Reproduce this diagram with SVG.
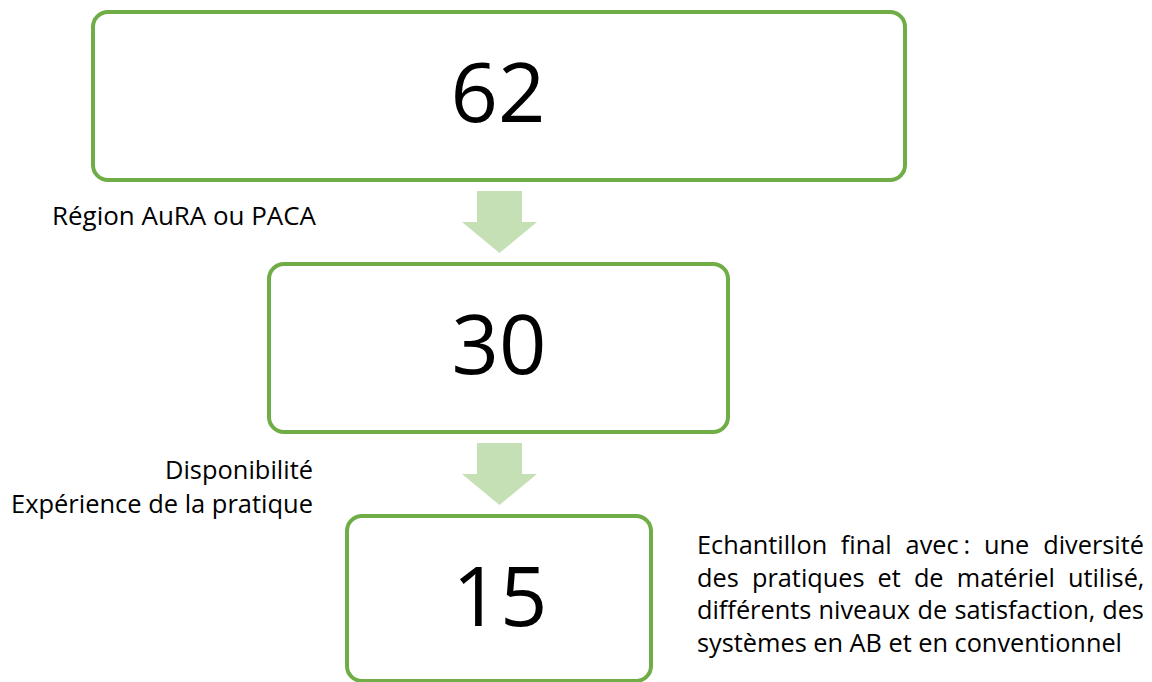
<svg xmlns="http://www.w3.org/2000/svg" width="1152" height="682" viewBox="0 0 1152 682">
<style>
.box{fill:#FFFFFF;stroke:#70AD47;stroke-width:4}
.arrow{fill:#C5E0B4;stroke:none}
.num{font-family:"Open Sans","Noto Sans",sans-serif;font-size:83px;fill:#000;text-anchor:middle}
.lbl{font-family:"Open Sans","Noto Sans",sans-serif;font-size:26px;fill:#000}
.par{font-family:"Open Sans","Noto Sans",sans-serif;font-size:25.3px;fill:#000}
</style>
<rect width="1152" height="682" fill="#FFFFFF"/>
<g id="connectors">
<polygon class="arrow" points="477,191 522,191 522,222 537,222 499.5,253 462,222 477,222"/>
<polygon class="arrow" points="477,443 522,443 522,474 537,474 499.5,505 462,474 477,474"/>
</g>
<g id="node-62">
<rect class="box" x="93" y="12" width="812" height="168" rx="15" ry="15"/>
<text class="num" x="498" y="121.7">62</text>
</g>
<g id="node-30">
<rect class="box" x="269" y="264" width="459" height="168" rx="15" ry="15"/>
<text class="num" x="499" y="373.5">30</text>
</g>
<g id="node-15">
<rect class="box" x="347" y="516" width="304" height="165" rx="15" ry="15"/>
<text class="num" x="500" y="626">15</text>
</g>
<g id="label-region">
<text class="lbl" x="52" y="224.5" textLength="264" lengthAdjust="spacingAndGlyphs">Région AuRA ou PACA</text>
</g>
<g id="label-criteria">
<text class="lbl" x="165" y="479.3" textLength="148" lengthAdjust="spacingAndGlyphs">Disponibilité</text>
<text class="lbl" x="11" y="512.7" textLength="302" lengthAdjust="spacingAndGlyphs">Expérience de la pratique</text>
</g>
<g id="label-final">
<text class="par" y="554"><tspan x="697">Echantillon</tspan><tspan x="840.8">final</tspan><tspan x="905.6">avec</tspan><tspan x="963.6">:</tspan><tspan x="984.1">une</tspan><tspan x="1043.2">diversité</tspan></text>
<text class="par" y="586.5"><tspan x="697">des</tspan><tspan x="752">pratiques</tspan><tspan x="877.6">et</tspan><tspan x="913.9">de</tspan><tspan x="956.8">matériel</tspan><tspan x="1067.9">utilisé,</tspan></text>
<text class="par" y="619"><tspan x="697">différents</tspan><tspan x="818.5">niveaux</tspan><tspan x="917.5">de</tspan><tspan x="954.4">satisfaction,</tspan><tspan x="1102.2">des</tspan></text>
<text class="par" x="697" y="651.5">systèmes en AB et en conventionnel</text>
</g>
</svg>
